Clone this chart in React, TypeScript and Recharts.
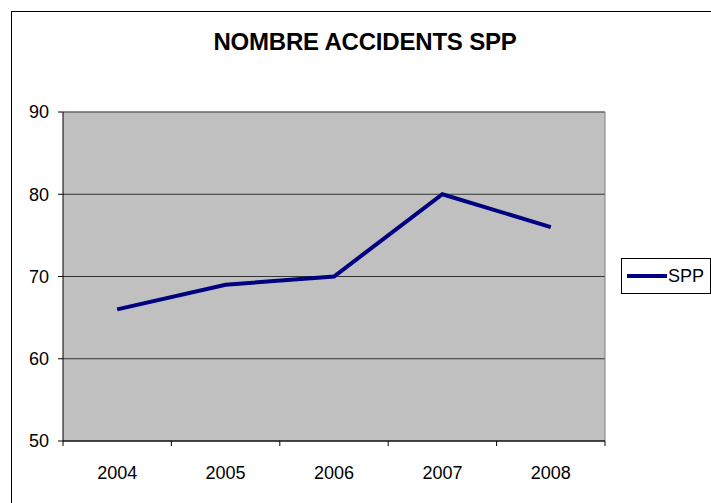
import React from "react";
import {
  LineChart,
  Line,
  XAxis,
  YAxis,
  CartesianGrid,
  ReferenceLine,
} from "recharts";

const years = ["2004", "2005", "2006", "2007", "2008"];
const accidents = [66, 69, 70, 80, 76];
const yTicks = [50, 60, 70, 80, 90];
const seriesName = "SPP";
const seriesColor = "#000080";

const FONT = "'Liberation Sans', Arial, sans-serif";

// each year sits in the middle of its band, Excel style
const data = years.map((year, i) => ({ pos: i + 0.5, year, [seriesName]: accidents[i] }));
const xTicks = [0, 0.5, 1, 1.5, 2, 2.5, 3, 3.5, 4, 4.5, 5];

const XTick = (props: any) => {
  const { x, y, payload } = props;
  const v = payload.value as number;
  if (Number.isInteger(v)) {
    return <line x1={x} x2={x} y1={y} y2={y + 5} stroke="#000" />;
  }
  return (
    <text
      x={x}
      y={y + 38}
      textAnchor="middle"
      fontFamily={FONT}
      fontSize={18}
      fill="#000"
    >
      {years[Math.floor(v)]}
    </text>
  );
};

export default function App() {
  return (
    <div
      style={{
        position: "fixed",
        left: 0,
        top: 0,
        width: 711,
        height: 503,
        overflow: "hidden",
        background: "#fff",
      }}
    >
      <div
        style={{
          position: "absolute",
          left: 11,
          top: 11,
          width: 800,
          height: 600,
          border: "1px solid #000",
        }}
      />
      <div
        style={{
          position: "absolute",
          left: 365,
          top: 30,
          transform: "translateX(-50%)",
          whiteSpace: "nowrap",
          fontFamily: FONT,
          fontWeight: "bold",
          fontSize: 24,
          lineHeight: "24px",
          letterSpacing: -0.2,
          color: "#000",
        }}
      >
        NOMBRE ACCIDENTS SPP
      </div>
      <div style={{ position: "absolute", left: 0, top: 0 }}>
        <LineChart
          width={711}
          height={503}
          data={data}
          margin={{ top: 112, right: 106, bottom: 32, left: 0 }}
        >
          <CartesianGrid
            vertical={false}
            fill="#C0C0C0"
            fillOpacity={1}
            stroke="#333"
          />
          <XAxis
            dataKey="pos"
            type="number"
            domain={[0, 5]}
            ticks={xTicks}
            interval={0}
            height={30}
            tickSize={0}
            tickMargin={0}
            tickLine={false}
            axisLine={{ stroke: "#000" }}
            tick={<XTick />}
          />
          <YAxis
            domain={[50, 90]}
            ticks={yTicks}
            width={63}
            tickSize={5}
            tickMargin={9}
            axisLine={{ stroke: "#000" }}
            tickLine={{ stroke: "#000" }}
            tick={{ fontFamily: FONT, fontSize: 18, fill: "#000" }}
          />
          <ReferenceLine y={90} stroke="#808080" />
          <ReferenceLine x={5} stroke="#808080" />
          <Line
            dataKey={seriesName}
            stroke={seriesColor}
            strokeWidth={4}
            dot={false}
            activeDot={false}
            isAnimationActive={false}
          />
        </LineChart>
      </div>
      <div
        style={{
          position: "absolute",
          left: 621,
          top: 258,
          width: 88,
          height: 34,
          border: "1px solid #000",
          background: "#fff",
          display: "flex",
          alignItems: "center",
        }}
      >
        <svg width={46} height={10}>
          <line x1={5} x2={45} y1={5} y2={5} stroke={seriesColor} strokeWidth={4} />
        </svg>
        <span style={{ fontFamily: FONT, fontSize: 18, color: "#000" }}>{seriesName}</span>
      </div>
    </div>
  );
}
